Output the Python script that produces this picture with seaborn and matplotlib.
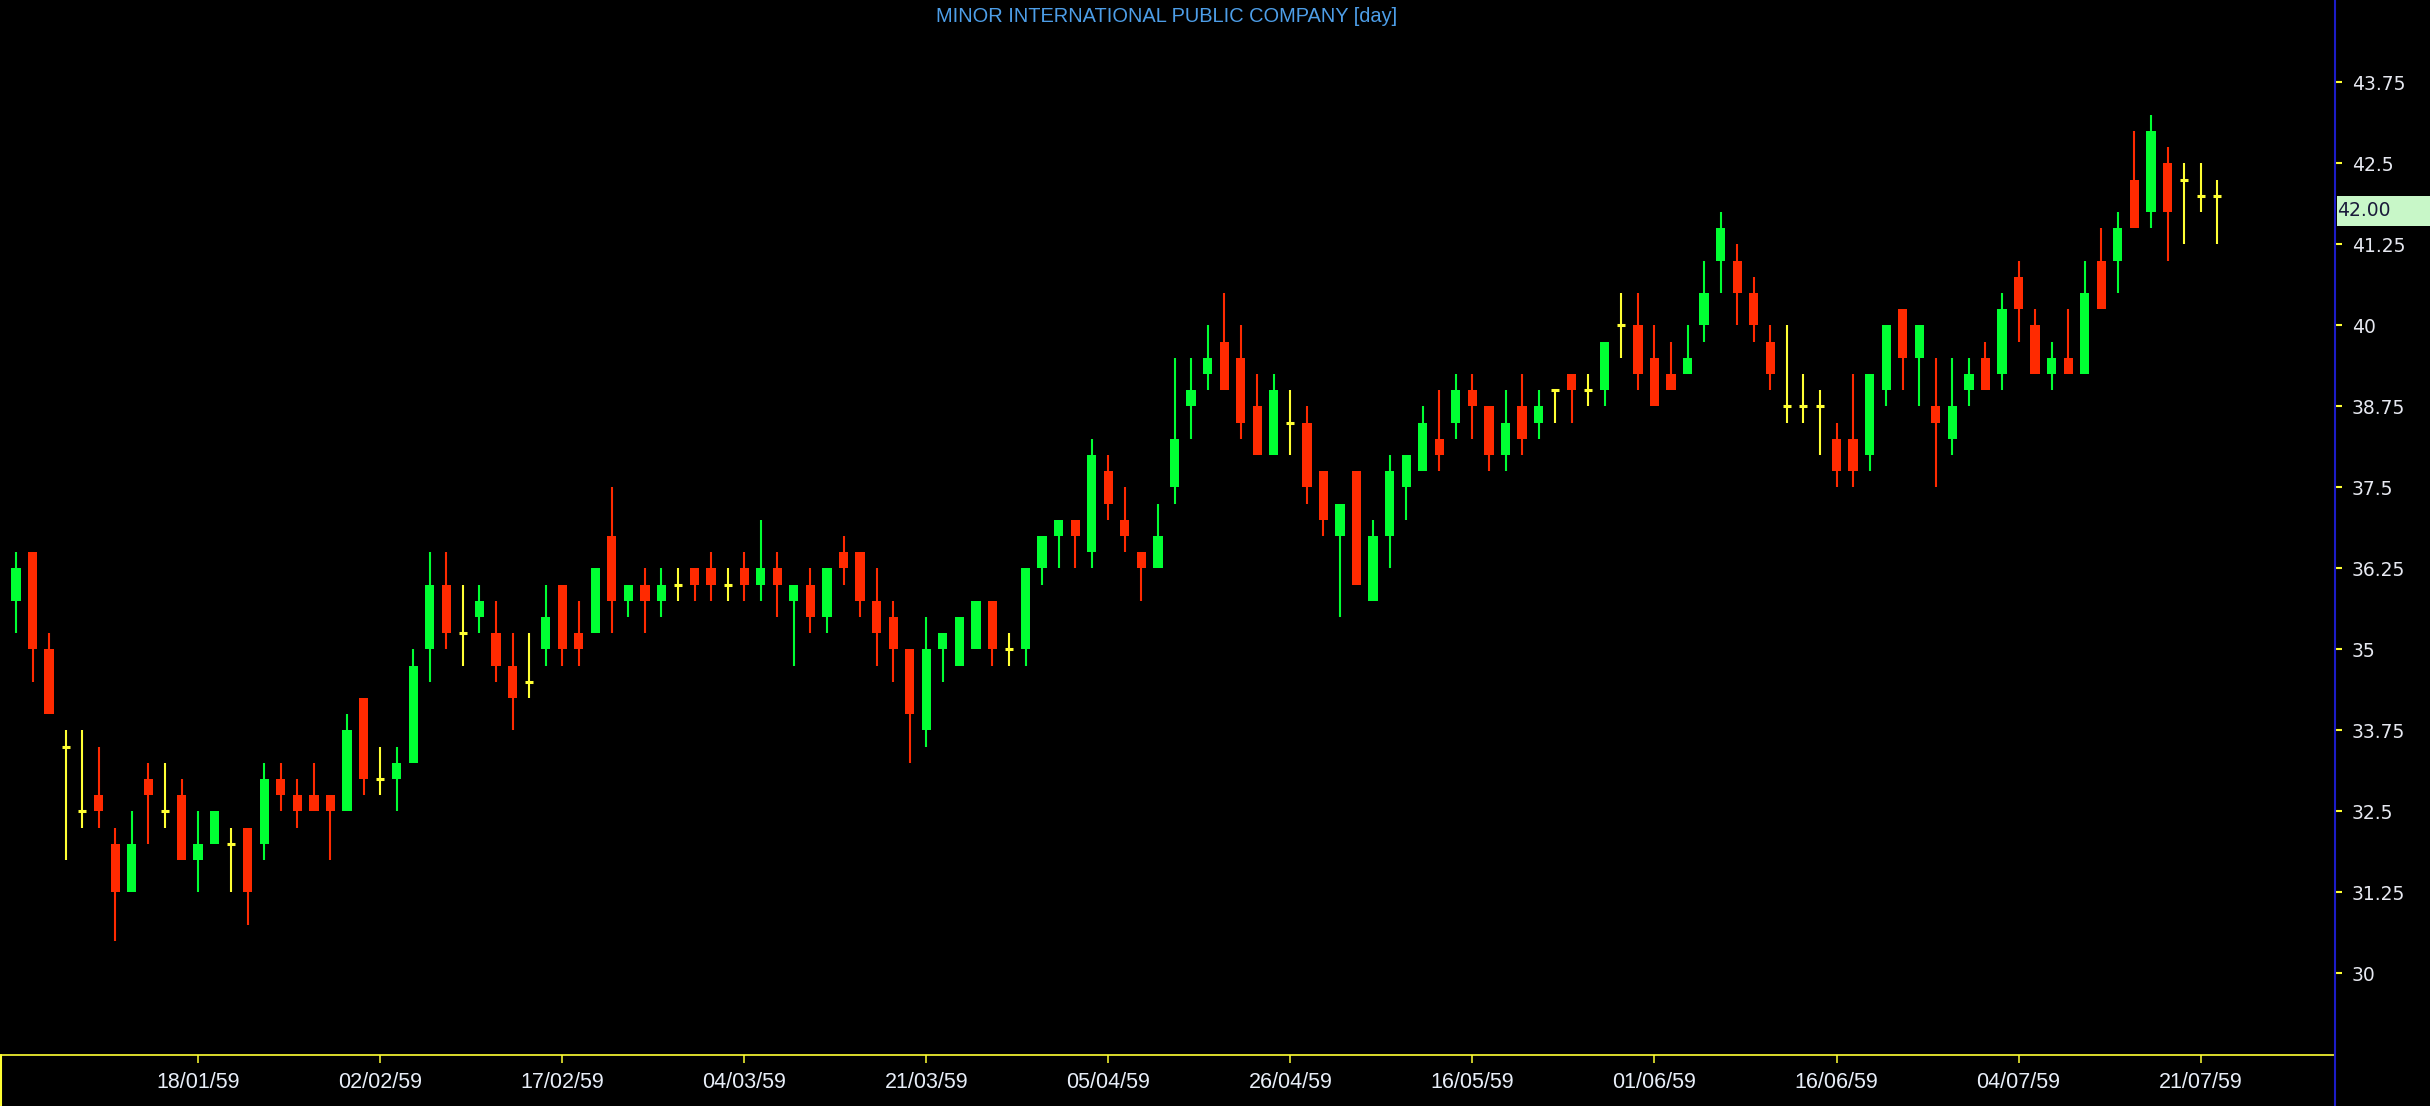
# daily candlestick chart, MINOR INTERNATIONAL (dark terminal look)

import numpy as np
import pandas as pd
import seaborn as sns
import matplotlib
matplotlib.use("Agg")
import matplotlib.pyplot as plt
from matplotlib.lines import Line2D
from matplotlib.patches import Rectangle

title = "MINOR INTERNATIONAL PUBLIC COMPANY [day]"

# date labels, one every 11 trading days
tick_labels = ["18/01/59", "02/02/59", "17/02/59", "04/03/59", "21/03/59", "05/04/59",
               "26/04/59", "16/05/59", "01/06/59", "16/06/59", "04/07/59", "21/07/59"]
tick_every = 11

price_ticks = [30, 31.25, 32.5, 33.75, 35, 36.25, 37.5, 38.75, 40, 41.25, 42.5, 43.75]

open_ = [35.75, 36.5, 35.0, 33.5, 32.5, 32.75, 32.0, 31.25, 33.0, 32.5,
         32.75, 31.75, 32.0, 32.0, 32.25, 32.0, 33.0, 32.75, 32.75, 32.75,
         32.5, 34.25, 33.0, 33.0, 33.25, 35.0, 36.0, 35.25, 35.5, 35.25,
         34.75, 34.5, 35.0, 36.0, 35.25, 35.25, 36.75, 35.75, 36.0, 35.75,
         36.0, 36.25, 36.25, 36.0, 36.25, 36.0, 36.25, 35.75, 36.0, 35.5,
         36.5, 36.5, 35.75, 35.5, 35.0, 33.75, 35.0, 34.75, 35.0, 35.75,
         35.0, 35.0, 36.25, 36.75, 37.0, 36.5, 37.75, 37.0, 36.5, 36.25,
         37.5, 38.75, 39.25, 39.75, 39.5, 38.75, 38.0, 38.5, 38.5, 37.75,
         36.75, 37.75, 35.75, 36.75, 37.5, 37.75, 38.25, 38.5, 39.0, 38.75,
         38.0, 38.75, 38.5, 39.0, 39.25, 39.0, 39.0, 40.0, 40.0, 39.5,
         39.25, 39.25, 40.0, 41.0, 41.0, 40.5, 39.75, 38.75, 38.75, 38.75,
         38.25, 38.25, 38.0, 39.0, 40.25, 39.5, 38.75, 38.25, 39.0, 39.5,
         39.25, 40.75, 40.0, 39.25, 39.5, 39.25, 41.0, 41.0, 42.25, 41.75,
         42.5, 42.25, 42.0, 42.0]
high = [36.5, 36.5, 35.25, 33.75, 33.75, 33.5, 32.25, 32.5, 33.25, 33.25,
        33.0, 32.5, 32.5, 32.25, 32.25, 33.25, 33.25, 33.0, 33.25, 32.75,
        34.0, 34.25, 33.5, 33.5, 35.0, 36.5, 36.5, 36.0, 36.0, 35.75,
        35.25, 35.25, 36.0, 36.0, 35.75, 36.25, 37.5, 36.0, 36.25, 36.25,
        36.25, 36.25, 36.5, 36.25, 36.5, 37.0, 36.5, 36.0, 36.25, 36.25,
        36.75, 36.5, 36.25, 35.75, 35.0, 35.5, 35.25, 35.5, 35.75, 35.75,
        35.25, 36.25, 36.75, 37.0, 37.0, 38.25, 38.0, 37.5, 36.5, 37.25,
        39.5, 39.5, 40.0, 40.5, 40.0, 39.25, 39.25, 39.0, 38.75, 37.75,
        37.25, 37.75, 37.0, 38.0, 38.0, 38.75, 39.0, 39.25, 39.25, 38.75,
        39.0, 39.25, 39.0, 39.0, 39.25, 39.25, 39.75, 40.5, 40.5, 40.0,
        39.75, 40.0, 41.0, 41.75, 41.25, 40.75, 40.0, 40.0, 39.25, 39.0,
        38.5, 39.25, 39.25, 40.0, 40.25, 40.0, 39.5, 39.5, 39.5, 39.75,
        40.5, 41.0, 40.25, 39.75, 40.25, 41.0, 41.5, 41.75, 43.0, 43.25,
        42.75, 42.5, 42.5, 42.25]
low = [35.25, 34.5, 34.0, 31.75, 32.25, 32.25, 30.5, 31.25, 32.0, 32.25,
       31.75, 31.25, 32.0, 31.25, 30.75, 31.75, 32.5, 32.25, 32.5, 31.75,
       32.5, 32.75, 32.75, 32.5, 33.25, 34.5, 35.0, 34.75, 35.25, 34.5,
       33.75, 34.25, 34.75, 34.75, 34.75, 35.25, 35.25, 35.5, 35.25, 35.5,
       35.75, 35.75, 35.75, 35.75, 35.75, 35.75, 35.5, 34.75, 35.25, 35.25,
       36.0, 35.5, 34.75, 34.5, 33.25, 33.5, 34.5, 34.75, 35.0, 34.75,
       34.75, 34.75, 36.0, 36.25, 36.25, 36.25, 37.0, 36.5, 35.75, 36.25,
       37.25, 38.25, 39.0, 39.0, 38.25, 38.0, 38.0, 38.0, 37.25, 36.75,
       35.5, 36.0, 35.75, 36.25, 37.0, 37.75, 37.75, 38.25, 38.25, 37.75,
       37.75, 38.0, 38.25, 38.5, 38.5, 38.75, 38.75, 39.5, 39.0, 38.75,
       39.0, 39.25, 39.75, 40.5, 40.0, 39.75, 39.0, 38.5, 38.5, 38.0,
       37.5, 37.5, 37.75, 38.75, 39.0, 38.75, 37.5, 38.0, 38.75, 39.0,
       39.0, 39.75, 39.25, 39.0, 39.25, 39.25, 40.25, 40.5, 41.5, 41.5,
       41.0, 41.25, 41.75, 41.25]
close = [36.25, 35.0, 34.0, 33.5, 32.5, 32.5, 31.25, 32.0, 32.75, 32.5,
         31.75, 32.0, 32.5, 32.0, 31.25, 33.0, 32.75, 32.5, 32.5, 32.5,
         33.75, 33.0, 33.0, 33.25, 34.75, 36.0, 35.25, 35.25, 35.75, 34.75,
         34.25, 34.5, 35.5, 35.0, 35.0, 36.25, 35.75, 36.0, 35.75, 36.0,
         36.0, 36.0, 36.0, 36.0, 36.0, 36.25, 36.0, 36.0, 35.5, 36.25,
         36.25, 35.75, 35.25, 35.0, 34.0, 35.0, 35.25, 35.5, 35.75, 35.0,
         35.0, 36.25, 36.75, 37.0, 36.75, 38.0, 37.25, 36.75, 36.25, 36.75,
         38.25, 39.0, 39.5, 39.0, 38.5, 38.0, 39.0, 38.5, 37.5, 37.0,
         37.25, 36.0, 36.75, 37.75, 38.0, 38.5, 38.0, 39.0, 38.75, 38.0,
         38.5, 38.25, 38.75, 39.0, 39.0, 39.0, 39.75, 40.0, 39.25, 38.75,
         39.0, 39.5, 40.5, 41.5, 40.5, 40.0, 39.25, 38.75, 38.75, 38.75,
         37.75, 37.75, 39.25, 40.0, 39.5, 40.0, 38.5, 38.75, 39.25, 39.0,
         40.25, 40.25, 39.25, 39.5, 39.25, 40.5, 40.25, 41.5, 41.5, 43.0,
         41.75, 42.25, 42.0, 42.0]

df = pd.DataFrame({"open": open_, "high": high, "low": low, "close": close})
df["bar"] = np.arange(len(df))
df["kind"] = np.where(df["close"] > df["open"], "up",
                      np.where(df["close"] < df["open"], "down", "flat"))
colors = {"up": "#00ff33", "down": "#ff2a00", "flat": "#ffff33"}

sns.set_theme(style="dark", rc={"axes.facecolor": "black", "figure.facecolor": "black",
                                "axes.grid": False})
plt.rcParams["font.family"] = ["Liberation Sans", "DejaVu Sans"]

W, H = 2430, 1106
fig = plt.figure(figsize=(W / 100, H / 100), dpi=100)
ax = fig.add_axes([0, 51 / H, 2335 / W, 1055 / H])
ax.set_facecolor("black")

# wicks, bodies, then doji crosses
ax.vlines(df["bar"], df["low"], df["high"], colors=df["kind"].map(colors), lw=1.5, zorder=2)
body = df[df["kind"] != "flat"]
ax.bar(body["bar"], body["close"] - body["open"], bottom=body["open"], width=0.56,
       color=body["kind"].map(colors), linewidth=0, zorder=3)
flat = df[df["kind"] == "flat"]
sns.scatterplot(data=flat, x="bar", y="close", marker="_", s=40, linewidth=2.2,
                color=colors["flat"], ax=ax, legend=False, zorder=3)

ax.set_xlim(-0.967, 140.12)
ax.set_ylim(28.742, 45.023)
ax.set_xlabel("")
ax.set_ylabel("")

# x axis (dates)
ax.set_xticks(np.arange(1, len(tick_labels) + 1) * tick_every)
ax.set_xticklabels(tick_labels)
ax.tick_params(axis="x", colors="#ffff33", labelcolor="#e8eef8", length=6, width=1.1,
               labelsize=15.5, pad=6, direction="out", bottom=True)

# y axis (price) on the right
ax.yaxis.tick_right()
ax.set_yticks(price_ticks)
ax.set_yticklabels([f"{v:g}" for v in price_ticks])
ax.tick_params(axis="y", colors="#ffff33", labelcolor="#e6e8f0", length=5, width=1.5,
               labelsize=13.5, pad=7, direction="out", right=True, left=False)
for lbl in ax.get_yticklabels():
    lbl.set_fontfamily("DejaVu Sans")

for side in ["top", "left", "right"]:
    ax.spines[side].set_visible(False)
ax.spines["bottom"].set_color("#ffff33")
ax.spines["bottom"].set_linewidth(1.2)

# frame lines outside the axes
fig.add_artist(Line2D([2335 / W, 2335 / W], [0, 1], transform=fig.transFigure,
                      color="#1c1cc8", lw=1.5))
fig.add_artist(Line2D([0.0006, 0.0006], [0, 51 / H], transform=fig.transFigure,
                      color="#ffff33", lw=1.5))

# last price box
last = close[-1]
box_h = 0.46
ax.add_patch(Rectangle((1.0008, last - box_h), 0.042, box_h, transform=ax.get_yaxis_transform(),
                       clip_on=False, facecolor="#c8f7c8", edgecolor="none", zorder=5))
ax.text(1.001, last - box_h / 2, f"{last:.2f}", transform=ax.get_yaxis_transform(),
        ha="left", va="center", color="#1a1a3a", fontsize=13.5, family="DejaVu Sans",
        clip_on=False, zorder=6)

fig.text(1167 / W, 1 - 16 / H, title, ha="center", va="center", color="#4d9ee8", fontsize=14.4)

fig.savefig("out.png", dpi=100, facecolor="black")
